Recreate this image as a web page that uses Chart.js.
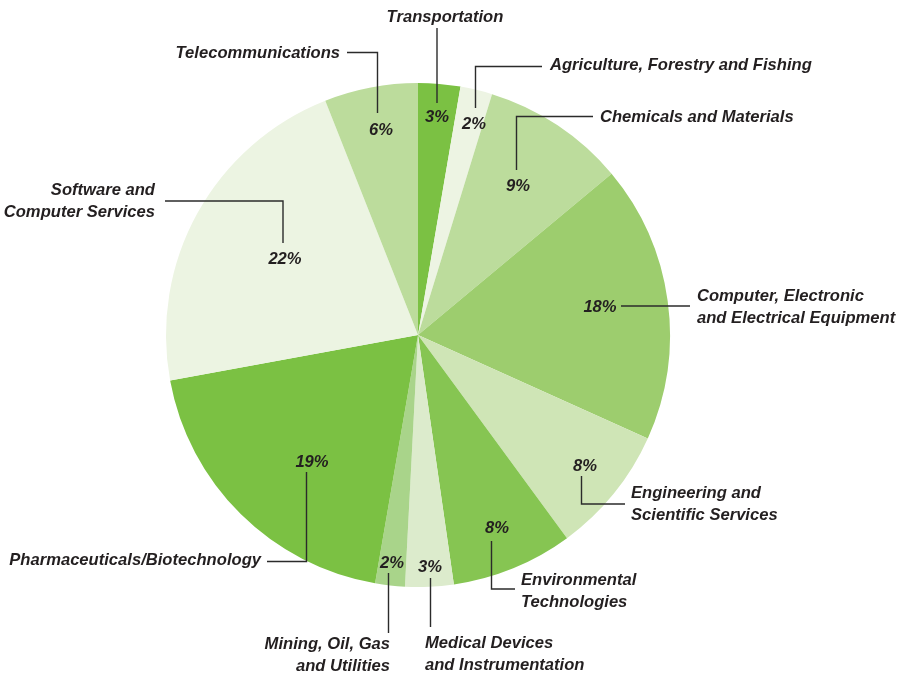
<!DOCTYPE html>
<html>
<head>
<meta charset="utf-8">
<script src="https://cdn.jsdelivr.net/npm/chart.js@4.4.1/dist/chart.umd.min.js"></script>
<style>
  html, body { margin: 0; padding: 0; background: #fff; }
  #wrap { width: 910px; height: 677px; }
</style>
</head>
<body>
<div id="wrap"><canvas id="c" width="910" height="677"></canvas></div>
<script>
// sectors, clockwise from 12 o'clock
const sectors = [
  'Transportation',
  'Agriculture, Forestry and Fishing',
  'Chemicals and Materials',
  'Computer, Electronic and Electrical Equipment',
  'Engineering and Scientific Services',
  'Environmental Technologies',
  'Medical Devices and Instrumentation',
  'Mining, Oil, Gas and Utilities',
  'Pharmaceuticals/Biotechnology',
  'Software and Computer Services',
  'Telecommunications'
];
// share of total (%)
const shares = [2.7, 2.05, 9.2, 17.8, 8.2, 7.8, 3.1, 1.9, 19.4, 21.9, 6.0];
const colors = ['#7bc143', '#edf4e3', '#bcdc9c', '#9dcd6e', '#cfe5b6', '#86c552',
                '#dcebcc', '#a9d48a', '#7bc143', '#ecf4e2', '#bcdc9c'];

// callout layout: pct label pos, name lines + anchor/align, leader polyline
const callouts = [
  { pct: [437, 117], name: ['Transportation'], at: [445, 17], align: 'center',
    path: [[437, 28], [437, 103]] },
  { pct: [474, 124], name: ['Agriculture, Forestry and Fishing'], at: [550, 65], align: 'left',
    path: [[542, 66.5], [475.5, 66.5], [475.5, 108]] },
  { pct: [518, 186], name: ['Chemicals and Materials'], at: [600, 117], align: 'left',
    path: [[593, 116.5], [516.5, 116.5], [516.5, 170]] },
  { pct: [600, 307], name: ['Computer, Electronic', 'and Electrical Equipment'], at: [697, 296], align: 'left',
    path: [[621, 306], [690, 306]] },
  { pct: [585, 466], name: ['Engineering and', 'Scientific Services'], at: [631, 493], align: 'left',
    path: [[581.5, 476], [581.5, 504], [625, 504]] },
  { pct: [497, 528], name: ['Environmental', 'Technologies'], at: [521, 580], align: 'left',
    path: [[491.5, 541], [491.5, 589], [515, 589]] },
  { pct: [430, 567], name: ['Medical Devices', 'and Instrumentation'], at: [425, 643], align: 'left',
    path: [[430.5, 578], [430.5, 627]] },
  { pct: [392, 563], name: ['Mining, Oil, Gas', 'and Utilities'], at: [390, 644], align: 'right',
    path: [[388.5, 573], [388.5, 633]] },
  { pct: [312, 462], name: ['Pharmaceuticals/Biotechnology'], at: [261, 560], align: 'right',
    path: [[306.5, 472], [306.5, 561.5], [267, 561.5]] },
  { pct: [285, 259], name: ['Software and', 'Computer Services'], at: [155, 190], align: 'right',
    path: [[165, 201], [283, 201], [283, 243]] },
  { pct: [381, 130], name: ['Telecommunications'], at: [340, 53], align: 'right',
    path: [[347, 52.5], [377.5, 52.5], [377.5, 113]] }
];

const FONT = 'italic bold 16.6px "Liberation Sans", Arial, sans-serif';
const INK = '#231f20';

const calloutPlugin = {
  id: 'callouts',
  afterDatasetsDraw(chart) {
    const ctx = chart.ctx;
    const vals = chart.data.datasets[0].data;
    ctx.save();
    ctx.strokeStyle = '#2b2b2b';
    ctx.lineWidth = 1.4;
    ctx.font = FONT;
    ctx.fillStyle = INK;
    ctx.textBaseline = 'middle';
    callouts.forEach((c, i) => {
      ctx.beginPath();
      c.path.forEach(([x, y], k) => k ? ctx.lineTo(x, y) : ctx.moveTo(x, y));
      ctx.stroke();
      ctx.textAlign = 'center';
      ctx.fillText(Math.round(vals[i]) + '%', c.pct[0], c.pct[1]);
      ctx.textAlign = c.align;
      c.name.forEach((line, k) => ctx.fillText(line, c.at[0], c.at[1] + k * 22));
    });
    ctx.restore();
  }
};

new Chart(document.getElementById('c'), {
  type: 'pie',
  data: {
    labels: sectors,
    datasets: [{
      data: shares,
      backgroundColor: colors,
      borderWidth: 0
    }]
  },
  options: {
    responsive: false,
    animation: false,
    layout: { padding: { left: 166, right: 240, top: 83, bottom: 90 } },
    plugins: {
      legend: { display: false },
      tooltip: { enabled: false }
    }
  },
  plugins: [calloutPlugin]
});
</script>
</body>
</html>
